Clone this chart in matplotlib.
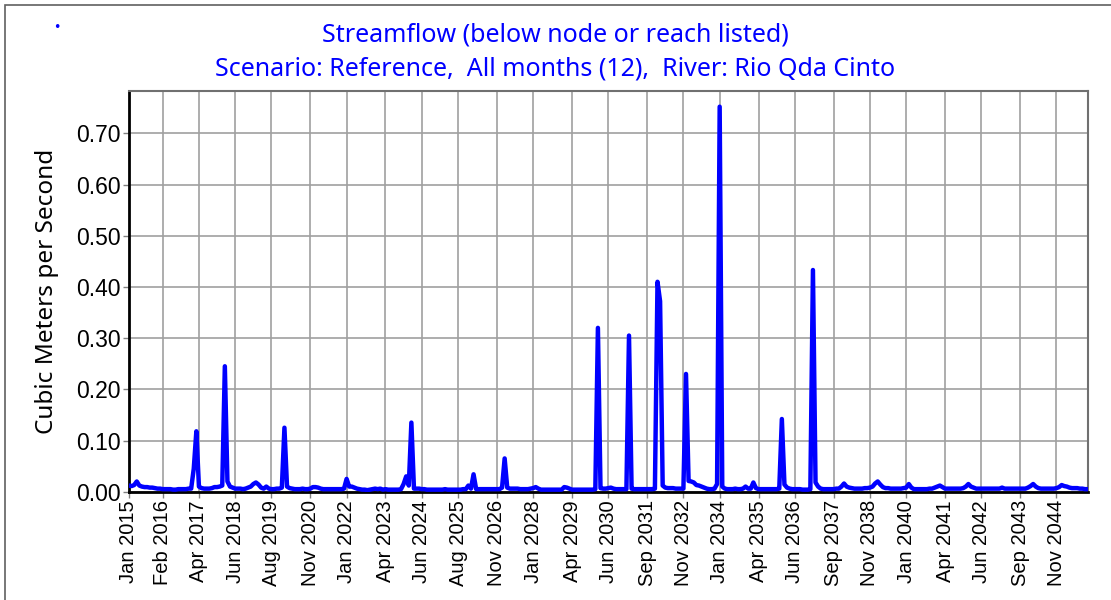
import numpy as np
import matplotlib.pyplot as plt
from matplotlib.patches import Rectangle

# monthly streamflow, Jan 2015 .. Nov 2045 (m3/s)
flow_2015 = [0.012, 0.011, 0.013, 0.020, 0.012, 0.010, 0.009, 0.009, 0.008, 0.008, 0.007, 0.006]
flow_2016 = [0.006, 0.005, 0.005, 0.005, 0.005, 0.004, 0.004, 0.005, 0.005, 0.005, 0.005, 0.006]
flow_2017 = [0.006, 0.045, 0.118, 0.010, 0.007, 0.006, 0.006, 0.006, 0.007, 0.009, 0.009, 0.010]
flow_2018 = [0.012, 0.245, 0.020, 0.010, 0.008, 0.006, 0.006, 0.006, 0.005, 0.006, 0.008, 0.010]
flow_2019 = [0.015, 0.018, 0.014, 0.008, 0.006, 0.010, 0.006, 0.005, 0.005, 0.006, 0.006, 0.008]
flow_2020 = [0.125, 0.010, 0.007, 0.006, 0.005, 0.005, 0.005, 0.006, 0.005, 0.005, 0.006, 0.009]
flow_2021 = [0.009, 0.008, 0.006, 0.005, 0.005, 0.005, 0.005, 0.005, 0.005, 0.005, 0.005, 0.006]
flow_2022 = [0.025, 0.010, 0.010, 0.008, 0.006, 0.005, 0.004, 0.004, 0.003, 0.004, 0.005, 0.006]
flow_2023 = [0.005, 0.006, 0.004, 0.005, 0.004, 0.004, 0.004, 0.004, 0.004, 0.005, 0.015, 0.030]
flow_2024 = [0.012, 0.135, 0.006, 0.006, 0.006, 0.005, 0.005, 0.004, 0.004, 0.004, 0.004, 0.004]
flow_2025 = [0.004, 0.004, 0.005, 0.004, 0.004, 0.004, 0.004, 0.004, 0.004, 0.005, 0.005, 0.012]
flow_2026 = [0.006, 0.034, 0.005, 0.005, 0.005, 0.005, 0.005, 0.005, 0.005, 0.005, 0.005, 0.005]
flow_2027 = [0.008, 0.065, 0.008, 0.006, 0.006, 0.006, 0.006, 0.005, 0.005, 0.005, 0.005, 0.006]
flow_2028 = [0.007, 0.009, 0.006, 0.004, 0.004, 0.004, 0.004, 0.004, 0.004, 0.004, 0.004, 0.004]
flow_2029 = [0.009, 0.008, 0.006, 0.004, 0.004, 0.004, 0.004, 0.004, 0.004, 0.004, 0.004, 0.004]
flow_2030 = [0.005, 0.320, 0.007, 0.006, 0.006, 0.007, 0.008, 0.006, 0.005, 0.005, 0.005, 0.005]
flow_2031 = [0.005, 0.305, 0.006, 0.005, 0.005, 0.005, 0.005, 0.005, 0.005, 0.005, 0.005, 0.006]
flow_2032 = [0.410, 0.372, 0.012, 0.008, 0.007, 0.007, 0.007, 0.006, 0.006, 0.006, 0.006, 0.230]
flow_2033 = [0.021, 0.020, 0.018, 0.013, 0.012, 0.010, 0.008, 0.006, 0.005, 0.005, 0.006, 0.015]
flow_2034 = [0.752, 0.010, 0.006, 0.005, 0.005, 0.005, 0.006, 0.005, 0.005, 0.006, 0.010, 0.006]
flow_2035 = [0.006, 0.018, 0.007, 0.005, 0.005, 0.005, 0.005, 0.005, 0.005, 0.005, 0.005, 0.006]
flow_2036 = [0.142, 0.014, 0.008, 0.006, 0.005, 0.005, 0.005, 0.005, 0.004, 0.004, 0.004, 0.005]
flow_2037 = [0.433, 0.018, 0.010, 0.006, 0.005, 0.005, 0.005, 0.005, 0.005, 0.006, 0.006, 0.010]
flow_2038 = [0.016, 0.010, 0.008, 0.007, 0.006, 0.006, 0.006, 0.006, 0.007, 0.007, 0.008, 0.010]
flow_2039 = [0.016, 0.020, 0.014, 0.009, 0.007, 0.007, 0.006, 0.006, 0.006, 0.006, 0.006, 0.007]
flow_2040 = [0.008, 0.015, 0.008, 0.005, 0.005, 0.005, 0.005, 0.005, 0.005, 0.006, 0.006, 0.008]
flow_2041 = [0.010, 0.012, 0.009, 0.006, 0.006, 0.006, 0.006, 0.006, 0.006, 0.006, 0.007, 0.010]
flow_2042 = [0.015, 0.010, 0.008, 0.006, 0.006, 0.006, 0.006, 0.006, 0.006, 0.006, 0.006, 0.006]
flow_2043 = [0.006, 0.008, 0.006, 0.006, 0.006, 0.006, 0.006, 0.006, 0.006, 0.006, 0.006, 0.008]
flow_2044 = [0.011, 0.015, 0.010, 0.007, 0.006, 0.006, 0.006, 0.006, 0.006, 0.006, 0.007, 0.009]
flow_2045 = [0.013, 0.011, 0.010, 0.008, 0.007, 0.007, 0.007, 0.006, 0.006, 0.005, 0.005]

flow = np.array(flow_2015 + flow_2016 + flow_2017 + flow_2018 + flow_2019 + flow_2020
                + flow_2021 + flow_2022 + flow_2023 + flow_2024 + flow_2025 + flow_2026
                + flow_2027 + flow_2028 + flow_2029 + flow_2030 + flow_2031 + flow_2032
                + flow_2033 + flow_2034 + flow_2035 + flow_2036 + flow_2037 + flow_2038
                + flow_2039 + flow_2040 + flow_2041 + flow_2042 + flow_2043 + flow_2044
                + flow_2045)

tick_labels = ["Jan 2015", "Feb 2016", "Apr 2017", "Jun 2018", "Aug 2019", "Nov 2020",
               "Jan 2022", "Apr 2023", "Jun 2024", "Aug 2025", "Nov 2026", "Jan 2028",
               "Apr 2029", "Jun 2030", "Sep 2031", "Nov 2032", "Jan 2034", "Apr 2035",
               "Jun 2036", "Sep 2037", "Nov 2038", "Jan 2040", "Apr 2041", "Jun 2042",
               "Sep 2043", "Nov 2044"]
y_ticks = [0.0, 0.1, 0.2, 0.3, 0.4, 0.5, 0.6, 0.7]

MONTHS = ["Jan", "Feb", "Mar", "Apr", "May", "Jun", "Jul", "Aug", "Sep", "Oct", "Nov", "Dec"]


def month_index(label):
    mon, yr = label.split()
    return (int(yr) - 2015) * 12 + MONTHS.index(mon)


blue = "#0000FF"
ui_font = ["Noto Sans", "DejaVu Sans"]

fig = plt.figure(figsize=(11.11, 6.0), dpi=100)
ax = fig.add_axes([0.1161, 0.1805, 0.9789 - 0.1161, 0.8483 - 0.1805])

x = np.arange(len(flow))
ax.plot(x, flow, color=blue, lw=3.2, solid_joinstyle="round", solid_capstyle="round", zorder=3)

ax.set_xlim(0, len(flow) - 1)
ax.set_ylim(0, 0.7826)

ax.set_xticks([month_index(t) for t in tick_labels])
ax.set_xticklabels(tick_labels, rotation=90, fontsize=14.5, family="Liberation Sans")
ax.set_yticks(y_ticks)
ax.set_yticklabels([f"{v:.2f}" for v in y_ticks], fontsize=16.5, family="Liberation Sans")

ax.grid(True, color="#a0a0a0", lw=1.2)
ax.set_axisbelow(True)
ax.tick_params(axis="both", direction="out", length=4, width=1, color="#808080", pad=2)

for side in ("left", "bottom"):
    ax.spines[side].set_color("black")
    ax.spines[side].set_linewidth(2.0)
for side in ("top", "right"):
    ax.spines[side].set_color("#707070")
    ax.spines[side].set_linewidth(1.5)

ax.set_ylabel("Cubic Meters per Second", fontsize=17.5, family=ui_font, labelpad=12)

fig.text(0.5, 1 - 35 / 600, "Streamflow (below node or reach listed)", color=blue,
         fontsize=18, family=ui_font, ha="center", va="center")
fig.text(0.5, 1 - 69 / 600, "Scenario: Reference,  All months (12),  River: Rio Qda Cinto",
         color=blue, fontsize=18, family=ui_font, ha="center", va="center")
fig.text(57 / 1111, 1 - 28 / 600, "\u2022", color=blue, fontsize=9, ha="center", va="center")

fig.patches.append(Rectangle((4.5 / 1111, -0.1), 1.2, 1.1 - 4.5 / 600, transform=fig.transFigure,
                             fill=False, edgecolor="#606060", lw=1.2))

fig.savefig("out.png", dpi=100)
